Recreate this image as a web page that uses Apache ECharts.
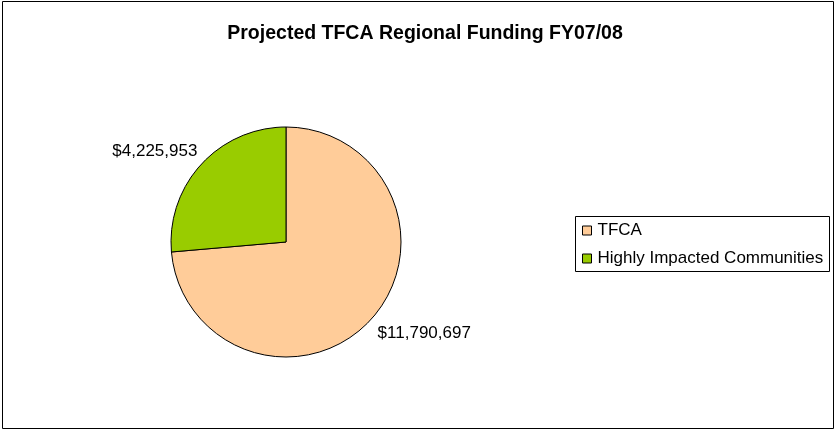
<!DOCTYPE html>
<html>
<head>
<meta charset="utf-8">
<script src="https://cdn.jsdelivr.net/npm/echarts@6/dist/echarts.min.js"></script>
<style>
  html, body { margin: 0; padding: 0; background: #fff; }
  #chart { width: 836px; height: 431px; }
</style>
</head>
<body>
<div id="chart"></div>
<script>
  let categories = ['TFCA', 'Highly Impacted Communities'];
  let values = [11790697, 4225953];
  let colors = ['#ffcc99', '#99cc00'];

  let myChart = echarts.init(document.getElementById('chart'), null, { renderer: 'canvas' });

  // nudge labels to where Excel put them
  let labelNudge = [{ dx: -7, dy: 6 }, { dx: 10, dy: -5 }];

  let option = {
    animation: false,
    textStyle: { fontFamily: 'Liberation Sans, Arial, sans-serif' },
    graphic: [{
      type: 'rect',
      shape: { x: 2.5, y: 1.5, width: 831, height: 427 },
      style: { fill: 'none', stroke: '#000', lineWidth: 1 },
      z: -1
    }, {
      // legend box
      type: 'rect',
      shape: { x: 575.5, y: 216.5, width: 254, height: 55 },
      style: { fill: '#fff', stroke: '#000', lineWidth: 1 },
      z: 0
    }],
    title: {
      text: 'Projected TFCA Regional Funding FY07/08',
      left: 420,
      top: 19,
      textAlign: 'center',
      textStyle: {
        color: '#000',
        fontSize: 19.5,
        fontWeight: 'bold',
        fontFamily: 'Liberation Sans, Arial, sans-serif'
      }
    },
    legend: {
      orient: 'vertical',
      left: 582,
      top: 222,
      padding: 0,
      icon: 'rect',
      itemWidth: 9,
      itemHeight: 9,
      itemGap: 11,
      itemStyle: { borderColor: '#000', borderWidth: 1 },
      textStyle: {
        color: '#000',
        fontSize: 17,
        padding: [0, 0, 0, 1]
      },
      data: categories
    },
    series: [{
      type: 'pie',
      center: [286, 242],
      radius: 115,
      startAngle: 90,
      clockwise: true,
      color: colors,
      itemStyle: { borderColor: '#000', borderWidth: 1 },
      emphasis: { disabled: true },
      label: {
        show: true,
        position: 'outside',
        color: '#000',
        fontSize: 17,
        formatter: function (p) {
          return '$' + p.value.toLocaleString('en-US');
        }
      },
      labelLine: { show: false, length: 12, length2: 0 },
      labelLayout: function (p) {
        return labelNudge[p.dataIndex];
      },
      data: categories.map(function (name, i) {
        return { name: name, value: values[i] };
      })
    }]
  };

  myChart.setOption(option);
</script>
</body>
</html>
